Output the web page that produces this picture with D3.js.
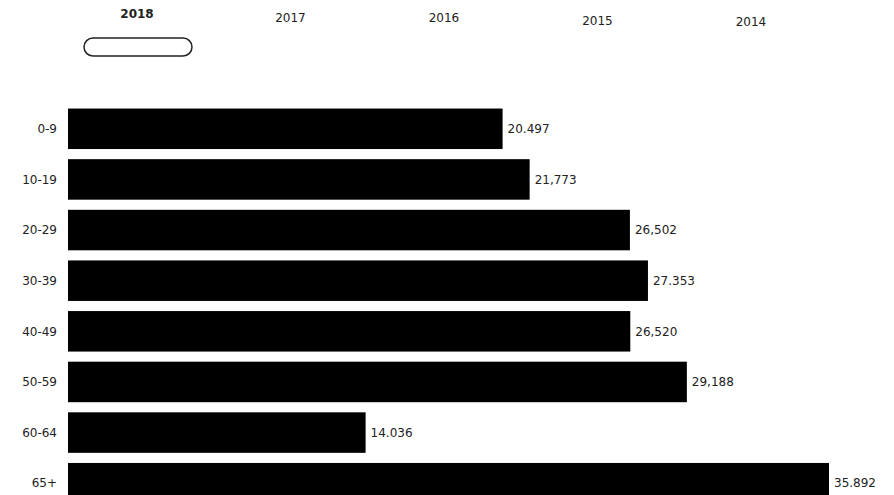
<!DOCTYPE html>
<html><head><meta charset="utf-8">
<script src="https://cdn.jsdelivr.net/npm/d3@7"></script>
<style>body{margin:0;background:#fff}svg{display:block}text{font-family:"DejaVu Sans",sans-serif;fill:#222}</style>
</head><body><svg id="c" width="894" height="495"></svg>
<script>
const categories = ["0-9","10-19","20-29","30-39","40-49","50-59","60-64","65+"];
const values = [20497,21773,26502,27353,26520,29188,14036,35892];
const valueLabels = ["20.497","21,773","26,502","27.353","26,520","29,188","14.036","35.892"];
const years = ["2018","2017","2016","2015","2014"];
const selectedYear = "2018";

const svg = d3.select("#c");
const x = d3.scaleLinear().domain([0, 35892]).range([68, 829]);
const y = d3.scaleBand().domain(categories).range([106, 506]).paddingInner(0.2).paddingOuter(0.05);
const yx = d3.scalePoint().domain(years).range([137, 751]);

// year selector
const yearOffsets = [18, 22, 22, 25, 26];
svg.selectAll("text.year").data(years).join("text").attr("class","year")
  .attr("x", d => yx(d)).attr("y", (d,i) => yearOffsets[i])
  .attr("text-anchor","middle").attr("font-size", 12)
  .attr("font-weight", d => d === selectedYear ? "bold" : "normal")
  .text(d => d);
svg.append("rect").attr("x", yx(selectedYear) - 53).attr("y", 38).attr("width", 108).attr("height", 18)
  .attr("rx", 9).attr("fill","none").attr("stroke","#222").attr("stroke-width",1.5);

// bars
svg.selectAll("rect.bar").data(values).join("rect").attr("class","bar")
  .attr("x", x(0)).attr("y", (d,i) => y(categories[i]))
  .attr("width", d => x(d) - x(0)).attr("height", y.bandwidth()).attr("fill","#000");

// category labels
svg.selectAll("text.cat").data(categories).join("text").attr("class","cat")
  .attr("x", 57).attr("y", d => y(d) + y.bandwidth()/2).attr("dy","0.35em")
  .attr("text-anchor","end").attr("font-size", 12).text(d => d);

// value labels
svg.selectAll("text.val").data(values).join("text").attr("class","val")
  .attr("x", d => x(d) + 5).attr("y", (d,i) => y(categories[i]) + y.bandwidth()/2).attr("dy","0.35em")
  .attr("font-size", 12).text((d,i) => valueLabels[i]);
</script></body></html>
